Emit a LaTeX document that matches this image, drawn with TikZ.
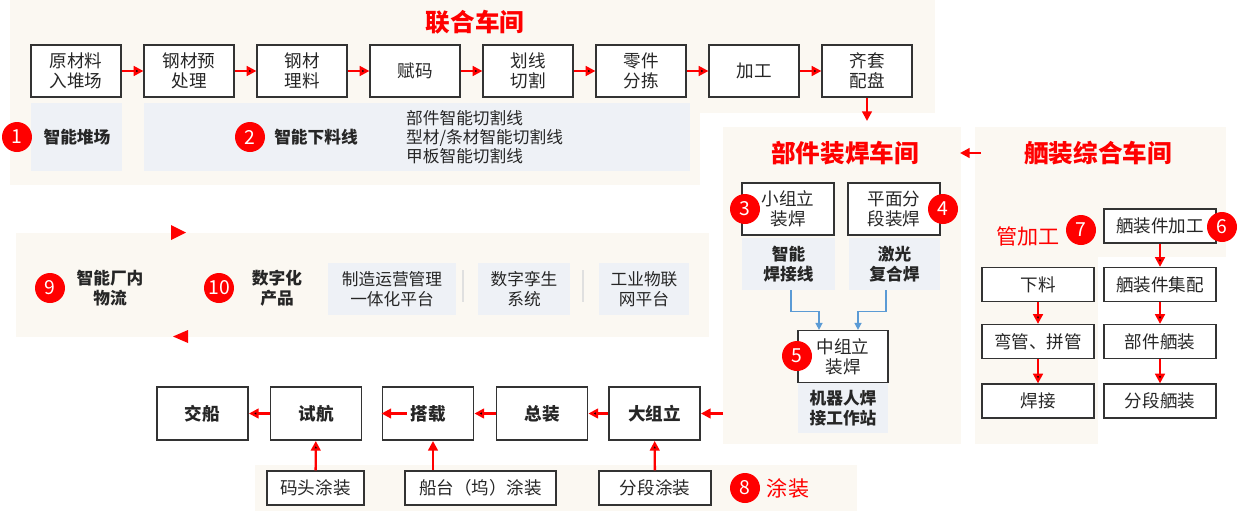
\documentclass[tikz,border=0pt]{standalone}
\usepackage{fontspec}
\setmainfont{Noto Sans CJK SC}
\usepackage{tikz}
\usetikzlibrary{arrows.meta}
\definecolor{bgbeige}{RGB}{251,248,242}
\definecolor{panelgray}{RGB}{238,241,246}
\definecolor{linkblue}{RGB}{91,155,213}
\definecolor{txtdark}{RGB}{38,38,38}

\begin{document}
\begin{tikzpicture}[x=0.02cm,y=-0.02cm,
	stagebox/.style={draw=black!80,line width=0.7pt,fill=white,text=txtdark,minimum width=1.8cm,minimum height=1.04cm,inner sep=0pt,align=center,font=\fontsize{10}{11.5}\selectfont},
	shipbox/.style={stagebox,line width=1.1pt,minimum width=1.82cm,minimum height=1.06cm,font=\bfseries\fontsize{10}{11.5}\selectfont},
	smallbox/.style={stagebox,minimum width=2.24cm,minimum height=0.68cm},
	infopanel/.style={fill=panelgray,inner sep=0pt,align=center,text=txtdark,font=\fontsize{9.5}{11.5}\selectfont},
	boldlabel/.style={text=txtdark,align=center,font=\bfseries\fontsize{9.5}{11.5}\selectfont},
	plainlabel/.style={text=txtdark,align=left,font=\fontsize{9.5}{11}\selectfont},
	badge/.style={circle,fill=red,text=white,minimum size=0.6cm,inner sep=0pt,font=\fontsize{11}{11}\selectfont},
	halltitle/.style={text=red,font=\bfseries\fontsize{14}{16}\selectfont},
	redlabel/.style={text=red,font=\fontsize{12}{14}\selectfont},
	flow/.style={draw=red,line width=1.3pt,-{Triangle[length=5.5pt,width=5.5pt]}},
	link/.style={draw=linkblue,line width=0.8pt,-{Triangle[length=4pt,width=4pt]}}]
	\useasboundingbox (0,0) rectangle (1241,511);
	\fill[bgbeige] (10,0) rectangle (700,185);
	\fill[bgbeige] (700,0) rectangle (935,113);
	\fill[bgbeige] (723,127) rectangle (961,444);
	\fill[bgbeige] (975,127) rectangle (1098,444);
	\fill[bgbeige] (1098,127) rectangle (1226,257);
	\fill[bgbeige] (16,233) rectangle (709,337);
	\fill[bgbeige] (255,465) rectangle (857,511);

	\node[halltitle] at (475,22) (lhcj) {联合车间};
	\node[stagebox] at (76,71) (ycl) {原材料\\入堆场};
	\node[stagebox] at (189,71) (gcyc) {钢材预\\处理};
	\node[stagebox] at (302,71) (gcll) {钢材\\理料};
	\node[stagebox] at (415,71) (fm) {赋码};
	\node[stagebox] at (528,71) (hxqg) {划线\\切割};
	\node[stagebox] at (641,71) (ljfj) {零件\\分拣};
	\node[stagebox] at (754,71) (jg) {加工};
	\node[stagebox] at (867,71) (qtpp) {齐套\\配盘};
	\path[flow] (ycl) edge (gcyc);
	\path[flow] (gcyc) edge (gcll);
	\path[flow] (gcll) edge (fm);
	\path[flow] (fm) edge (hxqg);
	\path[flow] (hxqg) edge (ljfj);
	\path[flow] (ljfj) edge (jg);
	\path[flow] (jg) edge (qtpp);

	\node[infopanel,minimum width=1.82cm,minimum height=1.36cm] at (76.5,137) (dcpanel) {};
	\node[infopanel,minimum width=10.92cm,minimum height=1.36cm] at (417,137) (xlpanel) {};
	\node[badge] at (17,137) (b1) {1};
	\node[boldlabel] at (77,137) (zndc) {智能堆场};
	\node[badge] at (250,137) (b2) {2};
	\node[boldlabel] at (316,137) (znxl) {智能下料线};
	\node[plainlabel,anchor=west] at (400,137) (qgx) {部件智能切割线\\型材/条材智能切割线\\甲板智能切割线};

	\coordinate (bjin) at (867,121);
	\draw[flow] (qtpp) -- (bjin);
	\node[halltitle] at (845,153) (bjcj) {部件装焊车间};
	\node[stagebox,minimum width=1.84cm] at (788,209) (xzl) {小组立\\装焊};
	\node[stagebox,minimum width=1.84cm] at (894,209) (pmfd) {平面分\\段装焊};
	\node[badge] at (745,209) (b3) {3};
	\node[badge] at (943,209) (b4) {4};
	\node[infopanel,boldlabel,minimum width=1.86cm,minimum height=1.04cm] at (788.5,264) (znhj) {智能\\焊接线};
	\node[infopanel,boldlabel,minimum width=1.82cm,minimum height=1.04cm] at (894.5,264) (jghf) {激光\\复合焊};
	\node[stagebox] at (843,356.5) (zzl) {中组立\\装焊};
	\node[badge] at (797,356) (b5) {5};
	\node[infopanel,boldlabel,minimum width=1.8cm,minimum height=1.0cm] at (843,408) (jqr) {机器人焊\\接工作站};
	\draw[link] ([xshift=0.05cm]znhj.south) -- ++(0,21) -| ([xshift=-0.48cm]zzl.north);
	\draw[link] ([xshift=-0.17cm]jghf.south) -- ++(0,21) -| ([xshift=0.3cm]zzl.north);

	\node[halltitle] at (1098,153) (szcj) {舾装综合车间};
	\coordinate (szout) at (981,153);
	\coordinate (bjside) at (960,153);
	\draw[flow] (szout) -- (bjside);
	\node[redlabel] at (1028,236) (ggj) {管加工};
	\node[badge] at (1081,230) (b7) {7};
	\node[smallbox] at (1160,226) (szjg) {舾装件加工};
	\node[badge] at (1222,227) (b6) {6};
	\node[smallbox] at (1038,284.5) (xl) {下料};
	\node[smallbox] at (1038,341.5) (wg) {弯管、拼管};
	\node[smallbox] at (1038,401) (hj) {焊接};
	\node[smallbox] at (1160,284.5) (szjp) {舾装件集配};
	\node[smallbox] at (1160,341.5) (bjsz) {部件舾装};
	\node[smallbox] at (1160,401) (fdsz) {分段舾装};
	\path[flow] (xl) edge (wg);
	\path[flow] (wg) edge (hj);
	\path[flow] (szjg) edge (szjp);
	\path[flow] (szjp) edge (bjsz);
	\path[flow] (bjsz) edge (fdsz);

	\fill[red] (171,225) -- (186,232.5) -- (171,240) -- cycle;
	\fill[red] (188,330) -- (173,336.5) -- (188,343) -- cycle;
	\node[badge] at (50,288) (b9) {9};
	\node[boldlabel] at (110,288) (cnwl) {智能厂内\\物流};
	\node[badge] at (219,288) (b10) {10};
	\node[boldlabel] at (277,288) (szcp) {数字化\\产品};
	\node[infopanel,minimum width=2.56cm,minimum height=1.04cm] at (392,289) (yypt) {制造运营管理\\一体化平台};
	\node[infopanel,minimum width=1.84cm,minimum height=1.04cm] at (524,289) (szls) {数字孪生\\系统};
	\node[infopanel,minimum width=1.8cm,minimum height=1.04cm] at (644,289) (wlpt) {工业物联\\网平台};
	\draw[black!12,line width=0.8pt] (463,270) -- (463,302);
	\draw[black!12,line width=0.8pt] (583,270) -- (583,302);

	\node[shipbox] at (202.5,413.5) (jc) {交船};
	\node[shipbox] at (316,413.5) (sh) {试航};
	\node[shipbox] at (428,413.5) (dz) {搭载};
	\node[shipbox] at (542,413.5) (zz) {总装};
	\node[shipbox] at (654.5,413.5) (dzl) {大组立};
	\coordinate (bjout) at (723,413.5);
	\draw[flow] (bjout) -- (dzl.east);
	\path[flow] (dzl) edge (zz);
	\path[flow] (zz) edge (dz);
	\draw[flow] ([xshift=0.5cm]dz.west) -- (dz.west);
	\path[flow] (sh) edge (jc);

	\node[stagebox,minimum width=1.94cm,minimum height=0.68cm] at (315.5,488) (mttz) {码头涂装};
	\node[stagebox,minimum width=3.02cm,minimum height=0.68cm] at (480.5,488) (cttz) {船台（坞）涂装};
	\node[stagebox,minimum width=2.24cm,minimum height=0.68cm] at (655,488) (fdtz) {分段涂装};
	\path[flow] (mttz) edge (sh);
	\draw[flow] ([xshift=0.1cm]dz.south |- cttz.north) -- ([xshift=0.1cm]dz.south);
	\path[flow] (fdtz) edge (dzl);
	\node[badge] at (745,488) (b8) {8};
	\node[redlabel] at (788,488) (tz) {涂装};
\end{tikzpicture}
\end{document}
